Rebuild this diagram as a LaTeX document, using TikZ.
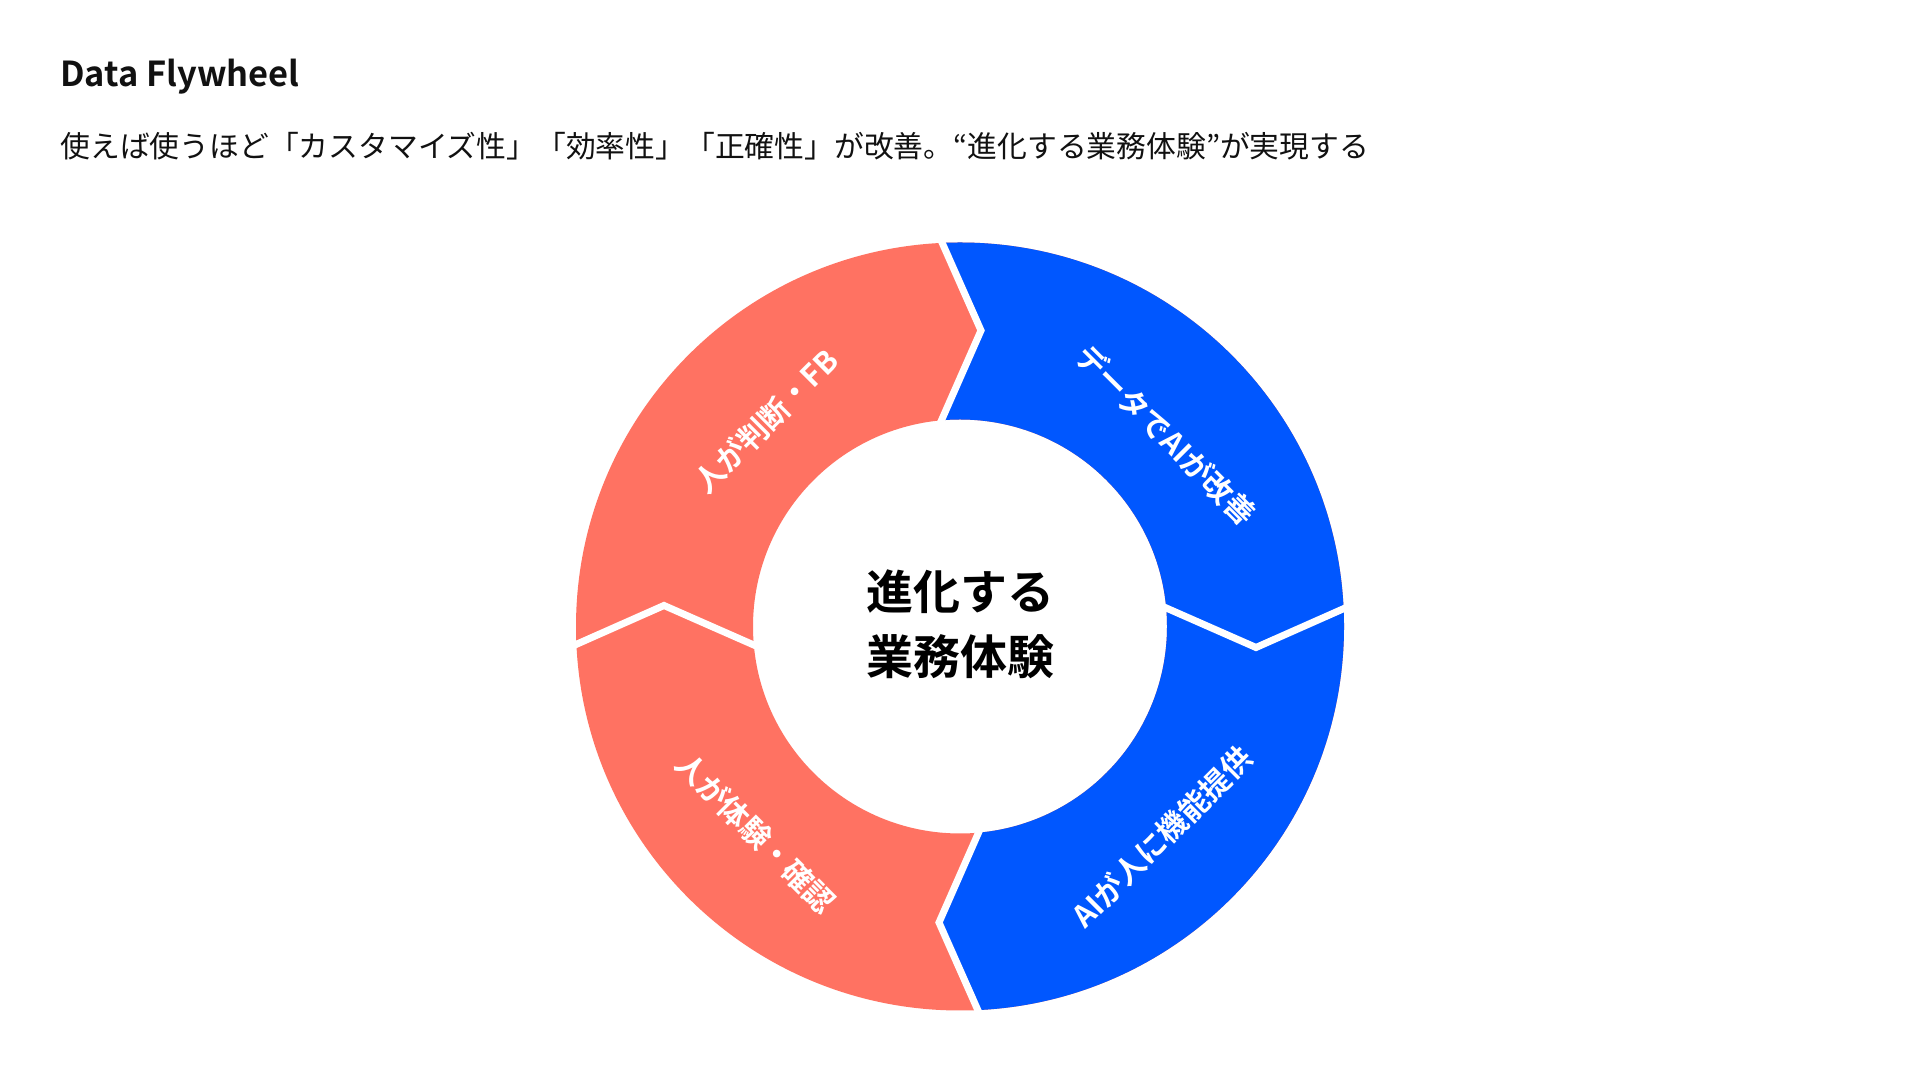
\documentclass[tikz,border=0pt]{standalone}
\usepackage{fontspec}
\setmainfont{Noto Sans CJK JP}[BoldFont={Noto Sans CJK JP Bold}]
\definecolor{coral}{HTML}{FF7262}
\definecolor{flyblue}{HTML}{0057FF}
\definecolor{ink}{HTML}{111111}
\tikzset{
  gapline/.style={draw=white, line width=3.5pt, line join=miter},
  seglabel/.style={text=white, font=\fontsize{15}{17}\selectfont\bfseries, inner sep=0pt},
}
\begin{document}
\begin{tikzpicture}[x=0.5pt,y=0.5pt]
\useasboundingbox[fill=white] (0,0) rectangle (1920,1080);
\node[anchor=base west, inner sep=0pt, text=ink, font=\fontsize{17.2}{20}\selectfont\bfseries] (title) at (60,993) {Data Flywheel};
\node[anchor=west, inner sep=0pt, text=ink, font=\fontsize{14.9}{17}\selectfont] (subtitle) at (60,934) {使えば使うほど「カスタマイズ性」「効率性」「正確性」が改善。“進化する業務体験”が実現する};
\begin{scope}[shift={(960,453.5)}]
  \fill[coral, even odd rule] (0,0) circle[radius=384] (0,0) circle[radius=207];
  \begin{scope}
    \clip (-37.5,428) -- (21,296) -- (-34,171) -- (34,-171) -- (-21,-296) -- (37.5,-428) -- (520,-520) -- (520,520) -- cycle;
    \fill[flyblue, even odd rule] (0,0) circle[radius=384] (0,0) circle[radius=207];
  \end{scope}
  \foreach \a in {0,-90,-180,-270}
    \draw[gapline, rotate=\a] (-37.5,428) -- (21,296) -- (-34,171);
\end{scope}
\node[align=center, inner sep=0pt, text=black, font=\fontsize{23.5}{32.5}\selectfont\bfseries] (hub) at (960,456) {進化する\\業務体験};
\node[seglabel, rotate=45] (judge) at (766,659) {人が判断・FB};
\node[seglabel, rotate=-45] (improve) at (1166,645) {データでAIが改善};
\node[seglabel, rotate=45] (provide) at (1162,243) {AIが人に機能提供};
\node[seglabel, rotate=-45] (experience) at (756,247) {人が体験・確認};
\end{tikzpicture}
\end{document}
